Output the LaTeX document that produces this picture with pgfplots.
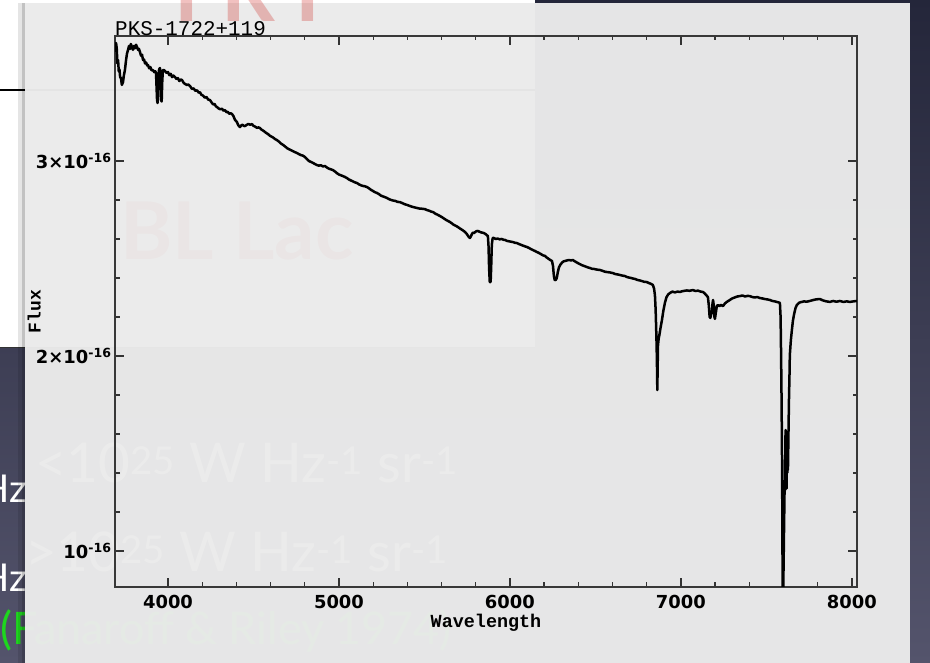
\documentclass[border=0pt]{standalone}
\usepackage{fontspec}
\usepackage{pgfplots}
\pgfplotsset{compat=1.18}
\setmainfont{DejaVu Sans}
\newfontfamily\tickfont{DejaVu Sans}
\newfontfamily\idlmono{Liberation Mono}
\newfontfamily\slidefont{Lato}

\definecolor{slidetop}{RGB}{36,38,58}
\definecolor{slidebot}{RGB}{84,84,108}
\definecolor{panelgray}{RGB}{235,235,235}
\definecolor{frgreen}{RGB}{30,215,30}
\definecolor{titlered}{RGB}{205,35,30}

\begin{document}
\begin{tikzpicture}[x=1bp,y=1bp]
\useasboundingbox (0,0) rectangle (930,663);
\clip (0,0) rectangle (930,663);
% slide background
\shade[top color=slidetop, bottom color=slidebot] (0,0) rectangle (930,663);
% white text box of the slide
\fill[white] (0,315) rectangle (535,663);
\draw[black!80, line width=1pt] (0,315) -- (535,315);
\draw[black, line width=1.2pt] (0,573) -- (535,573);
% slide text behind the figure
\node[anchor=base west, text=titlered, font=\slidefont\bfseries\fontsize{80}{90}\selectfont, inner sep=0] at (120,403) {BL Lac};
\node[anchor=base east, text=white, font=\slidefont\fontsize{55}{60}\selectfont, inner sep=0] at (27,180) {P\textsubscript{1.4GHz}};
\node[anchor=base west, text=white, font=\slidefont\fontsize{55}{60}\selectfont, inner sep=0] at (35,180) {<10\textsuperscript{25} W Hz\textsuperscript{-1} sr\textsuperscript{-1}};
\node[anchor=base east, text=white, font=\slidefont\fontsize{55}{60}\selectfont, inner sep=0] at (27,91) {P\textsubscript{1.4GHz}};
\node[anchor=base west, text=white, font=\slidefont\fontsize{55}{60}\selectfont, inner sep=0] at (25,91) {>10\textsuperscript{25} W Hz\textsuperscript{-1} sr\textsuperscript{-1}};
\node[anchor=base west, text=frgreen, font=\slidefont\fontsize{45}{50}\selectfont, inner sep=0] at (0,18) {(Fanaroff \& Riley 1974)};
% figure panel with a soft left shadow
\fill[black, opacity=0.10] (18,0) rectangle (25,660);
\fill[black, opacity=0.15] (22,0) rectangle (25,660);
\fill[panelgray, opacity=0.972] (25,0) rectangle (910,660);
\node[anchor=base west, text=titlered, opacity=0.28, font=\slidefont\bfseries\fontsize{84}{96}\selectfont, inner sep=0] at (174,641) {FR I};

\begin{axis}[
  at={(115bp,76bp)}, anchor=south west,
  scale only axis, width=742bp, height=551bp,
  xmin=3690, xmax=8030, ymin=0.815e-16, ymax=3.641e-16,
  xtick={4000,5000,6000,7000,8000},
  xticklabels={4000,5000,6000,7000,8000},
  minor x tick num=4,
  ytick={1e-16,2e-16,3e-16},
  yticklabels={{10\textsuperscript{-16}},{2\texttimes10\textsuperscript{-16}},{3\texttimes10\textsuperscript{-16}}},
  minor y tick num=4,
  scaled x ticks=false, scaled y ticks=false,
  tick align=inside,
  major tick length=9bp, minor tick length=4.5bp,
  tick style={black!80, line width=1.3bp},
  axis line style={black!78, line width=1.9bp},
  ticklabel style={font=\tickfont\bfseries\fontsize{18}{20}\selectfont, text=black},
  xticklabel style={yshift=-5bp},
  xlabel={Wavelength}, ylabel={Flux},
  xlabel style={font=\idlmono\bfseries\fontsize{18.5}{20}\selectfont, at={(axis description cs:0.5,-0.0744)}, anchor=base},
  ylabel style={font=\idlmono\bfseries\fontsize{18}{20}\selectfont, at={(axis description cs:-0.109,0.5)}, anchor=center},
  title={PKS-1722+119},
  title style={font=\idlmono\fontsize{21}{24}\selectfont, at={(axis description cs:0,1)}, anchor=base west, inner sep=0pt, yshift=-5bp},
]
\addplot[black, line width=2.5bp, line join=round, mark=none] table[x=wl, y=flux] {
wl flux
3690 3.56e-16
3696 3.605e-16
3700 3.58e-16
3704 3.50e-16
3708 3.518e-16
3712 3.46e-16
3716 3.47e-16
3720 3.43e-16
3725 3.425e-16
3730 3.39e-16
3737 3.405e-16
3742 3.44e-16
3748 3.466e-16
3755 3.52e-16
3760 3.55e-16
3766 3.569e-16
3772 3.59e-16
3778 3.575e-16
3783 3.60e-16
3789 3.584e-16
3795 3.57e-16
3801 3.59e-16
3807 3.578e-16
3813 3.596e-16
3819 3.584e-16
3825 3.57e-16
3830 3.575e-16
3836 3.559e-16
3842 3.54e-16
3848 3.545e-16
3854 3.518e-16
3860 3.52e-16
3866 3.50e-16
3872 3.505e-16
3878 3.49e-16
3883 3.492e-16
3890 3.475e-16
3897 3.482e-16
3904 3.465e-16
3912 3.466e-16
3920 3.455e-16
3926 3.46e-16
3930 3.451e-16
3933 3.38e-16
3936 3.312e-16
3939 3.297e-16
3941 3.36e-16
3944 3.441e-16
3948 3.47e-16
3953 3.477e-16
3956 3.42e-16
3959 3.312e-16
3963 3.305e-16
3966 3.40e-16
3970 3.466e-16
3977 3.466e-16
3984 3.46e-16
3990 3.452e-16
4000 3.456e-16
4008 3.44e-16
4016 3.447e-16
4024 3.43e-16
4032 3.438e-16
4041 3.430e-16
4050 3.42e-16
4058 3.425e-16
4066 3.41e-16
4074 3.418e-16
4082 3.415e-16
4092 3.40e-16
4100 3.395e-16
4110 3.39e-16
4119 3.392e-16
4129 3.384e-16
4140 3.37e-16
4150 3.372e-16
4160 3.36e-16
4170 3.362e-16
4180 3.35e-16
4187 3.353e-16
4195 3.34e-16
4205 3.335e-16
4215 3.325e-16
4225 3.328e-16
4235 3.315e-16
4246 3.312e-16
4255 3.30e-16
4264 3.29e-16
4273 3.292e-16
4280 3.28e-16
4286 3.277e-16
4295 3.27e-16
4305 3.265e-16
4315 3.268e-16
4325 3.258e-16
4333 3.261e-16
4342 3.25e-16
4350 3.252e-16
4358 3.242e-16
4366 3.245e-16
4374 3.241e-16
4383 3.23e-16
4392 3.21e-16
4398 3.205e-16
4403 3.200e-16
4410 3.185e-16
4416 3.178e-16
4421 3.174e-16
4428 3.182e-16
4436 3.186e-16
4443 3.18e-16
4450 3.179e-16
4460 3.185e-16
4470 3.19e-16
4480 3.186e-16
4491 3.189e-16
4500 3.18e-16
4510 3.176e-16
4520 3.17e-16
4530 3.172e-16
4538 3.169e-16
4548 3.16e-16
4558 3.155e-16
4568 3.148e-16
4577 3.142e-16
4585 3.138e-16
4595 3.13e-16
4605 3.125e-16
4615 3.12e-16
4625 3.113e-16
4637 3.107e-16
4648 3.10e-16
4660 3.09e-16
4672 3.083e-16
4684 3.075e-16
4696 3.066e-16
4708 3.06e-16
4720 3.055e-16
4731 3.05e-16
4743 3.045e-16
4754 3.041e-16
4766 3.035e-16
4778 3.03e-16
4790 3.027e-16
4801 3.020e-16
4812 3.01e-16
4824 3.00e-16
4836 2.995e-16
4848 2.99e-16
4860 2.984e-16
4871 2.979e-16
4882 2.976e-16
4894 2.978e-16
4906 2.972e-16
4918 2.974e-16
4930 2.966e-16
4942 2.96e-16
4953 2.957e-16
4965 2.953e-16
4978 2.945e-16
4990 2.936e-16
5001 2.93e-16
5013 2.926e-16
5024 2.922e-16
5035 2.918e-16
5047 2.912e-16
5058 2.905e-16
5070 2.90e-16
5082 2.895e-16
5094 2.89e-16
5105 2.887e-16
5117 2.88e-16
5129 2.875e-16
5140 2.872e-16
5152 2.87e-16
5164 2.866e-16
5175 2.86e-16
5187 2.852e-16
5199 2.846e-16
5210 2.84e-16
5222 2.836e-16
5234 2.83e-16
5246 2.822e-16
5258 2.818e-16
5270 2.814e-16
5281 2.810e-16
5293 2.804e-16
5305 2.80e-16
5317 2.797e-16
5330 2.795e-16
5343 2.79e-16
5357 2.789e-16
5370 2.784e-16
5385 2.778e-16
5400 2.774e-16
5415 2.769e-16
5428 2.765e-16
5442 2.762e-16
5456 2.759e-16
5470 2.756e-16
5485 2.755e-16
5503 2.753e-16
5515 2.748e-16
5527 2.745e-16
5540 2.74e-16
5550 2.738e-16
5563 2.73e-16
5577 2.724e-16
5590 2.718e-16
5602 2.712e-16
5614 2.705e-16
5626 2.698e-16
5638 2.692e-16
5649 2.687e-16
5660 2.68e-16
5672 2.672e-16
5684 2.667e-16
5696 2.661e-16
5707 2.654e-16
5718 2.648e-16
5728 2.642e-16
5737 2.636e-16
5748 2.625e-16
5758 2.612e-16
5766 2.605e-16
5772 2.614e-16
5778 2.626e-16
5784 2.633e-16
5789 2.630e-16
5796 2.635e-16
5804 2.64e-16
5813 2.641e-16
5822 2.637e-16
5830 2.634e-16
5840 2.632e-16
5848 2.630e-16
5856 2.626e-16
5864 2.62e-16
5871 2.615e-16
5875 2.56e-16
5878 2.45e-16
5882 2.379e-16
5887 2.379e-16
5890 2.45e-16
5894 2.57e-16
5899 2.605e-16
5906 2.605e-16
5916 2.60e-16
5928 2.602e-16
5940 2.598e-16
5952 2.60e-16
5962 2.596e-16
5971 2.595e-16
5983 2.59e-16
5995 2.588e-16
6006 2.586e-16
6018 2.584e-16
6030 2.58e-16
6041 2.579e-16
6053 2.574e-16
6064 2.57e-16
6076 2.566e-16
6088 2.562e-16
6099 2.559e-16
6111 2.554e-16
6123 2.548e-16
6135 2.543e-16
6147 2.538e-16
6158 2.533e-16
6170 2.528e-16
6182 2.522e-16
6193 2.516e-16
6205 2.513e-16
6215 2.505e-16
6226 2.498e-16
6236 2.492e-16
6246 2.487e-16
6252 2.46e-16
6257 2.41e-16
6262 2.389e-16
6268 2.39e-16
6274 2.40e-16
6280 2.43e-16
6287 2.455e-16
6295 2.468e-16
6304 2.478e-16
6313 2.485e-16
6322 2.487e-16
6334 2.49e-16
6345 2.492e-16
6357 2.49e-16
6368 2.492e-16
6380 2.485e-16
6392 2.479e-16
6402 2.474e-16
6409 2.471e-16
6420 2.466e-16
6432 2.462e-16
6444 2.458e-16
6456 2.454e-16
6468 2.451e-16
6480 2.447e-16
6492 2.446e-16
6503 2.444e-16
6515 2.442e-16
6526 2.441e-16
6540 2.437e-16
6556 2.432e-16
6570 2.43e-16
6586 2.428e-16
6602 2.425e-16
6616 2.42e-16
6630 2.418e-16
6644 2.415e-16
6658 2.412e-16
6672 2.410e-16
6684 2.405e-16
6696 2.402e-16
6708 2.40e-16
6720 2.397e-16
6731 2.395e-16
6745 2.39e-16
6760 2.387e-16
6772 2.384e-16
6786 2.38e-16
6801 2.379e-16
6812 2.374e-16
6824 2.37e-16
6836 2.364e-16
6843 2.345e-16
6848 2.312e-16
6852 2.24e-16
6855 2.15e-16
6858 2.05e-16
6860 1.95e-16
6862 1.825e-16
6864 1.95e-16
6866 2.056e-16
6870 2.09e-16
6874 2.107e-16
6880 2.14e-16
6889 2.184e-16
6897 2.23e-16
6906 2.271e-16
6915 2.30e-16
6925 2.315e-16
6936 2.323e-16
6950 2.33e-16
6965 2.326e-16
6980 2.33e-16
6994 2.328e-16
7008 2.332e-16
7020 2.334e-16
7035 2.336e-16
7050 2.334e-16
7070 2.338e-16
7085 2.333e-16
7100 2.335e-16
7115 2.33e-16
7129 2.328e-16
7140 2.32e-16
7150 2.31e-16
7158 2.302e-16
7163 2.26e-16
7168 2.20e-16
7172 2.195e-16
7176 2.21e-16
7181 2.225e-16
7185 2.27e-16
7188 2.287e-16
7192 2.26e-16
7196 2.20e-16
7199 2.19e-16
7204 2.22e-16
7210 2.255e-16
7216 2.261e-16
7225 2.255e-16
7233 2.262e-16
7246 2.256e-16
7258 2.27e-16
7270 2.278e-16
7286 2.287e-16
7300 2.295e-16
7315 2.30e-16
7330 2.305e-16
7345 2.307e-16
7360 2.31e-16
7375 2.305e-16
7390 2.308e-16
7403 2.307e-16
7418 2.302e-16
7432 2.30e-16
7447 2.302e-16
7462 2.297e-16
7476 2.295e-16
7490 2.292e-16
7505 2.29e-16
7520 2.287e-16
7535 2.282e-16
7548 2.28e-16
7561 2.277e-16
7570 2.275e-16
7579 2.272e-16
7583 2.20e-16
7586 2.00e-16
7589 1.75e-16
7592 1.40e-16
7594 1.00e-16
7596 0.70e-16
7598 0.70e-16
7600 0.90e-16
7603 1.10e-16
7606 1.30e-16
7608 1.312e-16
7610 1.45e-16
7612 1.62e-16
7614 1.35e-16
7616 1.58e-16
7618 1.32e-16
7620 1.61e-16
7622 1.40e-16
7624 1.55e-16
7626 1.415e-16
7629 1.60e-16
7632 1.774e-16
7635 1.90e-16
7637 2.005e-16
7643 2.08e-16
7649 2.133e-16
7655 2.18e-16
7661 2.21e-16
7670 2.245e-16
7678 2.261e-16
7690 2.272e-16
7700 2.276e-16
7708 2.277e-16
7720 2.28e-16
7735 2.278e-16
7754 2.282e-16
7770 2.286e-16
7790 2.29e-16
7813 2.292e-16
7830 2.285e-16
7850 2.28e-16
7871 2.277e-16
7890 2.282e-16
7910 2.278e-16
7930 2.282e-16
7950 2.277e-16
7970 2.28e-16
7988 2.277e-16
8010 2.28e-16
8029 2.282e-16
};
\end{axis}
\end{tikzpicture}
\end{document}
